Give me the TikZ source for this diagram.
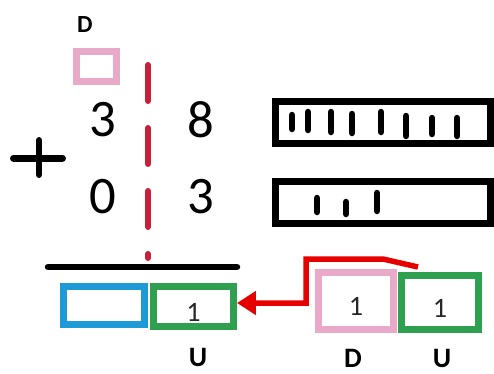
\documentclass[tikz,border=0pt]{standalone}
\usepackage{fontspec}
\setmainfont{Carlito}
\usetikzlibrary{arrows.meta}
\definecolor{dpink}{RGB}{232,170,200}
\definecolor{ublue}{RGB}{30,155,215}
\definecolor{ugreen}{RGB}{46,160,80}
\definecolor{sepred}{RGB}{200,32,58}
\definecolor{carryred}{RGB}{230,0,0}

\begin{document}
\begin{tikzpicture}[x=0.02cm, y=-0.02cm,
digit/.style={font=\fontsize{30}{36}\selectfont, inner sep=0pt},
place/.style={font=\fontsize{#1}{#1}\selectfont\bfseries, inner sep=0pt},
cell/.style={
  draw=#1, line width=0.14cm,
  inner sep=0pt, text height=0.58cm, text depth=0pt,
  text=black!85,
  font=\fontsize{16}{18}\selectfont
},
bar/.style={draw, line width=0.14cm, minimum width=4.3cm, minimum height=0.84cm},
tally/.style={line width=0.13cm, line cap=round}]
\useasboundingbox (0,0) rectangle (494,373);

\node (dTop) [place=14] at (85,25) {D};
\node (dBox) [cell=dpink, minimum width=0.8cm, minimum height=0.6cm] at (96.5,66.5) {};

\node (a1) [digit] at (103,120) {3};
\node (a0) [digit] at (201,120) {8};
\node (b1) [digit] at (103,197) {0};
\node (b0) [digit] at (201,197) {3};
\draw[line width=0.14cm, line cap=round] (13.5,158) -- (62.5,158) (39,140.5) -- (39,174.5);

\draw[sepred, line width=0.12cm, line cap=round, dash pattern=on 0.72cm off 0.54cm] (148,65) -- (148,258);
\draw[line width=0.13cm, line cap=round] (48,267) -- (237,267);

\node (tens) [cell=ublue, minimum width=1.62cm, minimum height=0.76cm] at (104,305.5) {};
\node (uL) [cell=ugreen, minimum width=1.6cm, minimum height=0.8cm] at (193.5,306.5) {1};
\node (uLab) [place=16] at (198,357) {U};

\node (barA) [bar] at (383,122.5) {};
\node (barB) [bar] at (383,202.5) {};
\foreach \x/\ya/\yb in {292/115/129, 308/112/130, 331/112/132, 352/114/133,
  381/112/132, 406/116/136, 432/118/134, 457/118/136,
  317/198/212, 346/202/214, 377/193/211}
  \draw[tally] (\x,\ya) -- (\x,\yb);

\node (dR) [cell=dpink, minimum width=1.5cm, minimum height=1.14cm] at (356,301) {1};
\node (uR) [cell=ugreen, minimum width=1.54cm, minimum height=1.08cm] at (440,302.5) {1};
\node (dRLab) [place=16] at (353,358) {D};
\node (uRLab) [place=16] at (442,358) {U};

\coordinate (carry) at (418,267);
\draw[carryred, line width=0.11cm, -{Triangle[length=0.38cm, width=0.46cm]}]
  (carry) -- (383,259) -- (306,259) |- ([yshift=0.07cm]uL.east);
\end{tikzpicture}
\end{document}
